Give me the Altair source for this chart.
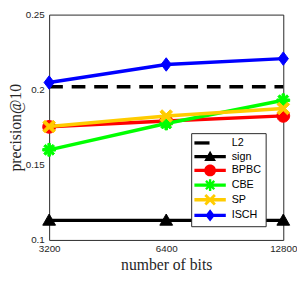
import math
import altair as alt
import pandas as pd

# ---- data ----
bits = [3200, 6400, 12800]
methods = ["L2", "sign", "BPBC", "CBE", "SP", "ISCH"]
l2_vals = [0.2020, 0.2020, 0.2020]
sign_vals = [0.1130, 0.1130, 0.1130]
bpbc_vals = [0.1753, 0.1792, 0.1826]
cbe_vals = [0.1600, 0.1775, 0.1930]
sp_vals = [0.1755, 0.1825, 0.1875]
isch_vals = [0.2048, 0.2168, 0.2207]
colors = ["#000000", "#000000", "#FF0000", "#00FF00", "#FFCC00", "#0000FF"]
y_ticks = [0.1, 0.15, 0.2, 0.25]

series = {"L2": l2_vals, "sign": sign_vals, "BPBC": bpbc_vals,
          "CBE": cbe_vals, "SP": sp_vals, "ISCH": isch_vals}
rows = [{"method": m, "bits": b, "p": v}
        for m in methods for b, v in zip(bits, series[m])]
df = pd.DataFrame(rows)


# ---- marker shapes (unit SVG paths, all drawn clockwise) ----
def poly(pts):
    return "M" + "L".join(f"{x:.3f},{y:.3f}" for x, y in pts) + "Z"


def bar(angle_deg, half_len, half_w):
    a = math.radians(angle_deg)
    c, s = math.cos(a), math.sin(a)
    base = [(-half_len, -half_w), (half_len, -half_w), (half_len, half_w), (-half_len, half_w)]
    return poly([(x * c - y * s, x * s + y * c) for x, y in base])


circle = "M1,0A1,1 0 1,1 -1,0A1,1 0 1,1 1,0Z"
triangle = poly([(0, -1), (1, 0.75), (-1, 0.75)])
diamond = poly([(0, -1.05), (0.8, 0), (0, 1.05), (-0.8, 0)])
xmark = bar(45, 1.15, 0.24) + bar(-45, 1.15, 0.24)
asterisk = bar(0, 1.0, 0.2) + bar(45, 1.0, 0.2) + bar(90, 1.0, 0.2) + bar(135, 1.0, 0.2)
marker_of = {"sign": triangle, "BPBC": circle, "CBE": asterisk, "SP": xmark, "ISCH": diamond}

seg = bar(0, 2.67, 0.28)
legend_paths = [poly([(-2.67, -0.28), (-0.1, -0.28), (-0.1, 0.28), (-2.67, 0.28)])] + \
    [seg + marker_of[m] for m in methods[1:]]

xenc = alt.X("bits:Q",
             scale=alt.Scale(type="log", base=2, domain=[3200, 12800], nice=False),
             axis=alt.Axis(values=bits, format="d", title="number of bits",
                           labelFlush=False, labelOverlap=False, ticks=False, tickSize=0,
                           domain=False, grid=False, labelPadding=4,
                           titleY=30, titleBaseline="alphabetic"))
yenc = alt.Y("p:Q",
             scale=alt.Scale(domain=[0.1, 0.25], nice=False, zero=False),
             axis=alt.Axis(values=y_ticks, format=".2~f", title="precision@10",
                           labelFlush=False, labelOverlap=False, ticks=False, tickSize=0,
                           domain=False, grid=False, labelPadding=5,
                           titleX=-29, titleY=115, titleBaseline="alphabetic"))

base = alt.Chart(df)
layers = []
for m, c in zip(methods, colors):
    sub = base.transform_filter(alt.datum.method == m)
    if m == "L2":
        layers.append(sub.mark_line(color=c, strokeWidth=3.5, strokeDash=[14, 9])
                      .encode(x=xenc, y=yenc))
    else:
        layers.append(sub.mark_line(color=c, strokeWidth=3.5).encode(x=xenc, y=yenc))
        layers.append(sub.mark_point(shape=marker_of[m], filled=True, size=170,
                                     color=c, stroke=c, strokeWidth=1, opacity=1)
                      .encode(x=xenc, y=yenc))

leg = alt.Legend(title=None, orient="none", legendX=145, legendY=121,
                 direction="vertical", fillColor="white", strokeColor="#262626",
                 padding=4, symbolSize=144, symbolStrokeWidth=0,
                 symbolOffset=9.3, labelOffset=16, labelFont="Liberation Sans",
                 labelFontSize=11, labelColor="#000000", rowPadding=3.0, labelLimit=120)

legend_layer = base.transform_filter("false").mark_point(filled=True, opacity=1).encode(
    x=xenc, y=yenc,
    color=alt.Color("method:N", scale=alt.Scale(domain=methods, range=colors), legend=leg),
    shape=alt.Shape("method:N", scale=alt.Scale(domain=methods, range=legend_paths), legend=leg),
)
layers.append(legend_layer)

chart = alt.layer(*layers).properties(
    width=239, height=230,
    autosize=alt.AutoSizeParams(type="none"),
    padding={"left": 42, "top": 4, "right": 14, "bottom": 31},
    background="white",
).configure_view(
    stroke="#262626", strokeWidth=1
).configure_axis(
    labelFont="Liberation Sans", labelFontSize=10, labelColor="#262626",
    titleFont="Liberation Serif", titleFontSize=16, titleFontWeight="normal",
    titleColor="#262626",
)

chart.save("out.html", embed_options={"renderer": "svg", "actions": False})
